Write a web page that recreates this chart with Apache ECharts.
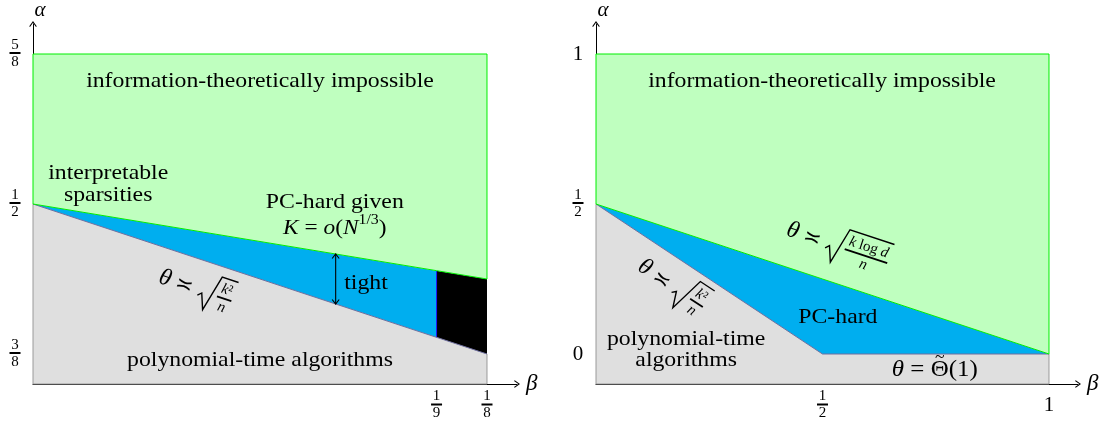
<!DOCTYPE html>
<html><head><meta charset="utf-8">
<script src="https://cdn.jsdelivr.net/npm/echarts@6/dist/echarts.min.js"></script>
<style>html,body{margin:0;padding:0;background:#fff}#c{width:1111px;height:429px}</style>
</head><body><div id="c"></div>
<script>
// ---------- data: left panel ----------
const leftBeta = [0, 1/9, 1/8];
const leftInfoBound = [1/2, 4/9, 7/16];   // upper edge of the blue band
const leftPolyBound = [1/2, 7/18, 3/8];   // lower edge of the blue band
const leftTop = 5/8;
const leftYTicks = [3/8, 1/2, 5/8];
const leftYTickLabels = ['3/8', '1/2', '5/8'];
const leftXTicks = [1/9, 1/8];
const leftXTickLabels = ['1/9', '1/8'];
const tightArrow = [1/12, 11/24, 5/12];   // beta, alpha top, alpha bottom
// ---------- data: right panel ----------
const rightBeta = [0, 1/2, 1];
const rightInfoBound = [1/2, 1/4, 0];
const rightPolyBound = [1/2, 0, 0];
const rightTop = 1;
const rightYTicks = [0, 1/2, 1];
const rightYTickLabels = ['0', '1/2', '1'];
const rightXTicks = [1/2, 1];
const rightXTickLabels = ['1/2', '1'];

// ---------- axis ranges ----------
const LEFT_X = [0, 0.13326], LEFT_Y = [0.35, 0.65];
const RIGHT_X = [0, 1.06402], RIGHT_Y = [-0.1, 1.1];

const SERIF = "'Liberation Serif','Times New Roman',serif";
const MATHF = "'DejaVu Serif','Liberation Serif',serif";
const GREEN_FILL = '#bfffbf', GREEN_EDGE = '#00ee00', BLUE = '#00aeef',
      GREY_FILL = '#dfdfdf', GREY_EDGE = '#9a9a9a', BOUND_EDGE = '#6f6f9f';
const SX = 1.08;
const ZT = 100;

const mctx = document.createElement('canvas').getContext('2d');
function tw(t, f) { mctx.font = f; return mctx.measureText(t).width; }
function F(size, italic, fam) { return (italic ? 'italic ' : '') + size + 'px ' + (fam || SERIF); }

function fracFmt(l) {
  if (l.indexOf('/') >= 0) { const p = l.split('/'); return '{n|' + p[0] + '}\n{b|}\n{d|' + p[1] + '}'; }
  return '{p|' + l + '}';
}
function pick(vals, labels) {
  return function (v) {
    let bi = 0, bd = Infinity;
    vals.forEach((x, i) => { const d = Math.abs(x - v); if (d < bd) { bd = d; bi = i; } });
    return fracFmt(labels[bi]);
  };
}
const richY = {
  n: { fontSize: 15, lineHeight: 13, fontFamily: SERIF, color: '#000' },
  b: { width: 11, height: 2, lineHeight: 3, backgroundColor: '#000' },
  d: { fontSize: 15, lineHeight: 15, fontFamily: SERIF, color: '#000' },
  p: { fontSize: 21, lineHeight: 22, fontFamily: SERIF, color: '#000' }
};
const richX = Object.assign({}, richY, { p: { fontSize: 21, lineHeight: 31, fontFamily: SERIF, color: '#000' } });
const ARROW = 'path://M5,0 L10,7 L9,8 L5,2.2 L1,8 L0,7 Z';

function xAxisCfg(grid, range, ticks, labels) {
  return {
    type: 'value', gridIndex: grid, min: range[0], max: range[1],
    name: 'β', nameLocation: 'end', nameGap: 9,
    nameTextStyle: { fontFamily: SERIF, fontStyle: 'italic', fontSize: 23, color: '#000', verticalAlign: 'middle', padding: [0, 0, 4, 0] },
    axisLine: { show: true, onZero: false, symbol: ['none', ARROW], symbolSize: [8, 6], lineStyle: { color: '#000', width: 1 } },
    axisTick: { show: false }, splitLine: { show: false },
    axisLabel: { customValues: ticks, margin: 6, align: 'center', verticalAlign: 'top', formatter: pick(ticks, labels), rich: richX }
  };
}
function yAxisCfg(grid, range, ticks, labels) {
  return {
    type: 'value', gridIndex: grid, min: range[0], max: range[1],
    name: 'α', nameLocation: 'end', nameGap: 3,
    nameTextStyle: { fontFamily: SERIF, fontStyle: 'italic', fontSize: 21, color: '#000', padding: [0, 0, 0, 14] },
    axisLine: { show: true, onZero: false, symbol: ['none', ARROW], symbolSize: [8, 6], lineStyle: { color: '#000', width: 1 } },
    axisTick: { show: false }, splitLine: { show: false },
    axisLabel: { customValues: ticks, margin: 18, align: 'center', verticalAlign: 'middle', formatter: pick(ticks, labels), rich: richY }
  };
}

function poly(points, fill, stroke) {
  return { type: 'polygon', shape: { points }, style: { fill, stroke: stroke || null, lineWidth: stroke ? 1 : 0 } };
}
function pl(points, stroke, w) {
  return { type: 'polyline', shape: { points }, style: { fill: null, stroke, lineWidth: w || 1 } };
}

function renderLeft(params, api) {
  const P = (b, a) => api.coord([b, a]);
  const [b0, b1, b2] = leftBeta, [i0, i1, i2] = leftInfoBound, [p0, p1, p2] = leftPolyBound;
  const yMin = LEFT_Y[0];
  const ch = [];
  ch.push(poly([P(b0, yMin), P(b2, yMin), P(b2, p2), P(b1, p1), P(b0, p0)], GREY_FILL));
  ch.push(pl([P(b0, p0), P(b0, yMin), P(b2, yMin), P(b2, p2)], GREY_EDGE));
  ch.push(poly([P(b0, i0), P(b1, i1), P(b1, p1), P(b0, p0)], BLUE));
  ch.push(poly([P(b1, i1), P(b2, i2), P(b2, p2), P(b1, p1)], '#000'));
  ch.push(pl([P(b1, i1), P(b1, p1)], '#1a1aff'));
  ch.push(pl([P(b0, p0), P(b1, p1), P(b2, p2)], BOUND_EDGE));
  ch.push(poly([P(b0, leftTop), P(b2, leftTop), P(b2, i2), P(b1, i1), P(b0, i0)], GREEN_FILL, GREEN_EDGE));
  // "tight" double arrow
  const t = P(tightArrow[0], tightArrow[1]), bt = P(tightArrow[0], tightArrow[2]);
  ch.push(pl([t, bt], '#000', 1.1));
  ch.push(pl([[t[0] - 3.5, t[1] + 4.5], t, [t[0] + 3.5, t[1] + 4.5]], '#000', 1.1));
  ch.push(pl([[bt[0] - 3.5, bt[1] - 4.5], bt, [bt[0] + 3.5, bt[1] - 4.5]], '#000', 1.1));
  return { type: 'group', children: ch };
}
function renderRight(params, api) {
  const P = (b, a) => api.coord([b, a]);
  const [b0, b1, b2] = rightBeta, [i0, i1, i2] = rightInfoBound, [p0, p1, p2] = rightPolyBound;
  const yMin = RIGHT_Y[0];
  const ch = [];
  ch.push(poly([P(b0, yMin), P(b2, yMin), P(b2, p2), P(b1, p1), P(b0, p0)], GREY_FILL));
  ch.push(pl([P(b0, p0), P(b0, yMin), P(b2, yMin), P(b2, p2)], GREY_EDGE));
  ch.push(poly([P(b0, i0), P(b1, i1), P(b2, i2), P(b2, p2), P(b1, p1), P(b0, p0)], BLUE));
  ch.push(pl([P(b0, p0), P(b1, p1), P(b2, p2)], BOUND_EDGE));
  ch.push(poly([P(b0, rightTop), P(b2, rightTop), P(b2, i2), P(b1, i1), P(b0, i0)], GREEN_FILL, GREEN_EDGE));
  return { type: 'group', children: ch };
}

const chart = echarts.init(document.getElementById('c'));
chart.setOption({
  animation: false,
  backgroundColor: '#fff',
  grid: [
    { left: 33, top: 22, width: 484, height: 362 },
    { left: 596, top: 22, width: 482, height: 362 }
  ],
  xAxis: [xAxisCfg(0, LEFT_X, leftXTicks, leftXTickLabels), xAxisCfg(1, RIGHT_X, rightXTicks, rightXTickLabels)],
  yAxis: [yAxisCfg(0, LEFT_Y, leftYTicks, leftYTickLabels), yAxisCfg(1, RIGHT_Y, rightYTicks, rightYTickLabels)],
  series: [
    { type: 'custom', xAxisIndex: 0, yAxisIndex: 0, silent: true, data: [[0, 0.5]], renderItem: renderLeft, z: 2 },
    { type: 'custom', xAxisIndex: 1, yAxisIndex: 1, silent: true, data: [[0, 0.5]], renderItem: renderRight, z: 2 }
  ]
});

// ---------- annotations ----------
const L = (b, a) => chart.convertToPixel({ gridIndex: 0 }, [b, a]);
const R = (b, a) => chart.convertToPixel({ gridIndex: 1 }, [b, a]);
function ang(p, q) { return -Math.atan2(q[1] - p[1], q[0] - p[0]); }

function txt(text, x, y, font, align) {
  return { type: 'text', x, y, z: ZT, style: { text, font, fill: '#000', align: align || 'left', verticalAlign: 'middle' } };
}
function T(text, pt, size, opts) {
  opts = opts || {};
  return {
    type: 'text', x: pt[0], y: pt[1], scaleX: opts.sx || SX, z: ZT,
    style: { text, font: F(size, opts.italic), fill: '#000', align: 'center', verticalAlign: 'middle', lineHeight: opts.lh || size }
  };
}
// sequence of text pieces: [text, font, dy, 'over']
function seq(pieces, pt, sx) {
  const ws = pieces.map(p => p[3] === 'over' ? 0 : tw(p[0], p[1]));
  const total = ws.reduce((a, b) => a + b, 0);
  let x = -total / 2, lastC = 0;
  const ch = [];
  pieces.forEach((p, i) => {
    if (p[3] === 'over') {
      ch.push(txt(p[0], lastC, p[2] || 0, p[1], 'center'));
    } else {
      ch.push(txt(p[0], x, p[2] || 0, p[1], 'left'));
      lastC = x + ws[i] / 2; x += ws[i];
    }
  });
  return { type: 'group', x: pt[0], y: pt[1], scaleX: sx || 1, z: ZT, children: ch };
}
// theta ≍ sqrt(num / den), rotated
function sqrtLabel(pt, rot, numPieces, den) {
  const fTh = F(24, true), fSym = F(21, false, MATHF), fSm = F(15, true), fSmR = F(15, false);
  const wNum = numPieces.reduce((a, p) => a + tw(p[0], p[1] ? fSm : fSmR), 0);
  const wFrac = Math.max(wNum, tw(den, fSm)) + 6;
  const wT = tw('θ', fTh), wS = tw('≍', fSym), radW = 18;
  const total = wT + 6 + wS + 6 + radW + wFrac;
  let x = -total / 2;
  const ch = [];
  ch.push(txt('θ', x, 0, fTh));
  x += wT + 6;
  ch.push(txt('≍', x, 1, fSym));
  x += wS + 6;
  const top = -19, bot = 18;
  ch.push({ type: 'polyline', z: ZT, shape: { points: [[x, 6], [x + 3.5, 2.5], [x + 9.5, bot], [x + radW, top], [x + radW + wFrac, top]] }, style: { fill: null, stroke: '#000', lineWidth: 1.4 } });
  const fx0 = x + radW + 3;
  let nx = fx0 + (wFrac - 6 - wNum) / 2;
  numPieces.forEach(p => {
    const f = p[1] ? fSm : fSmR;
    ch.push(txt(p[0], nx, -8, f));
    nx += tw(p[0], f);
  });
  ch.push({ type: 'line', z: ZT, shape: { x1: x + radW + 1, y1: 1, x2: x + radW + wFrac - 1, y2: 1 }, style: { stroke: '#000', lineWidth: 1.8 } });
  ch.push(txt(den, x + radW + wFrac / 2, 10, fSm, 'center'));
  return { type: 'group', x: pt[0], y: pt[1], rotation: rot, z: ZT, children: ch };
}

const aLeft = ang(L(leftBeta[0], leftPolyBound[0]), L(leftBeta[2], leftPolyBound[2]));
const aRU = ang(R(rightBeta[0], rightInfoBound[0]), R(rightBeta[2], rightInfoBound[2]));
const aRL = ang(R(rightBeta[0], rightPolyBound[0]), R(rightBeta[1], rightPolyBound[1]));
const f22 = F(22), f22i = F(22, true), f24 = F(24), f24i = F(24, true);

const elements = [
  T('information-theoretically impossible', L(0.0625, 0.602), 22),
  T('interpretable\nsparsities', L(0.0207, 0.5166), 22, { lh: 22 }),
  T('PC-hard given', L(0.0831, 0.5017), 22),
  seq([['K', f22i], [' = ', f22], ['o', f22i], ['(', f22], ['N', f22i], ['1/3', F(15), -8], [')', f22]], L(0.0831, 0.4801), 1.06),
  T('tight', L(0.0917, 0.4337), 22),
  sqrtLabel(L(0.0449, 0.4296), aLeft, [['k', true], ['²', false]], 'n'),
  T('polynomial-time algorithms', L(0.0625, 0.3699), 22),

  T('information-theoretically impossible', R(0.499, 0.9077), 22),
  sqrtLabel(R(0.534, 0.3608), aRU, [['k', true], [' log ', false], ['d', true]], 'n'),
  sqrtLabel(R(0.168, 0.228), aRL, [['k', true], ['²', false]], 'n'),
  T('PC-hard', R(0.534, 0.122), 22),
  T('polynomial-time\nalgorithms', R(0.199, 0.0127), 22, { lh: 21 }),
  seq([['θ', f24i], [' = ', f24], ['Θ', f24], ['~', F(17), -13, 'over'], ['(1)', f24]], R(0.748, -0.0536), 1.04)
];
chart.setOption({ graphic: { elements } });
</script>
</body></html>
